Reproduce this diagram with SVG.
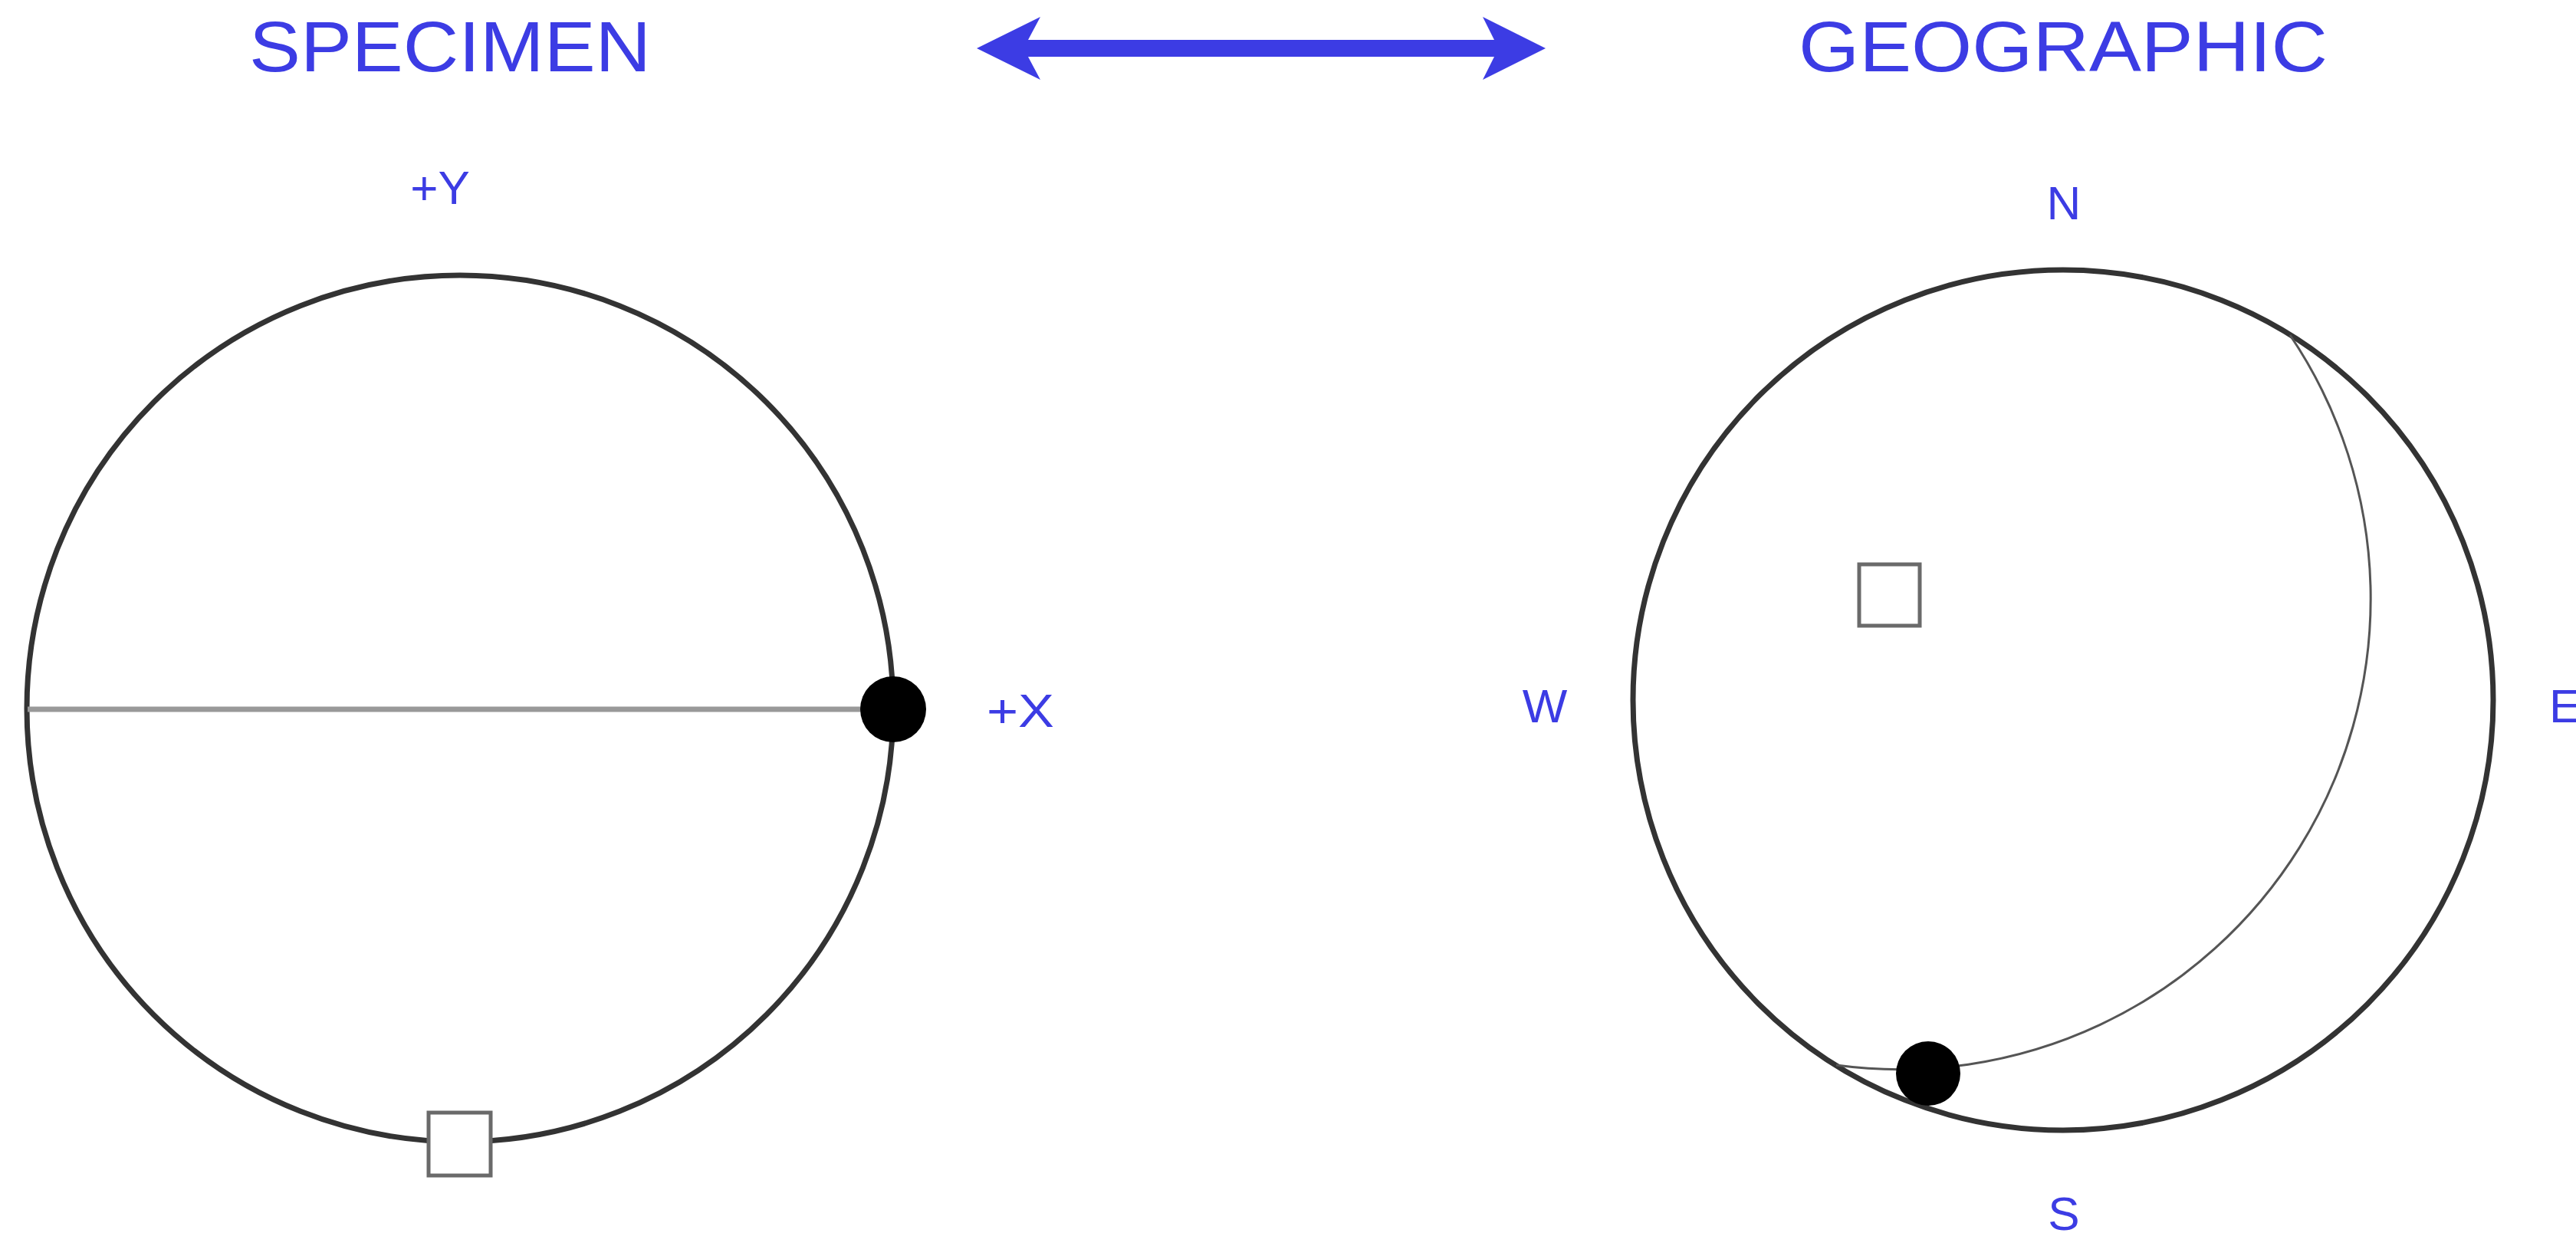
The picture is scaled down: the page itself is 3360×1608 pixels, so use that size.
<svg xmlns="http://www.w3.org/2000/svg" width="3360" height="1608" viewBox="0 0 3360 1608">
<style>
.lbl{font-family:"Liberation Sans",Arial,sans-serif;fill:#3c3ce4;font-size:62px}
.title{font-family:"Liberation Sans",Arial,sans-serif;fill:#3c3ce4;font-size:92px}
.prim{fill:none;stroke:#333;stroke-width:7}
.sq{fill:#fff;stroke:#6a6a6a;stroke-width:5}
.dot{fill:#000}
</style>
<rect width="3360" height="1608" fill="#fff"/>
<g id="title-specimen"><text class="title" x="325" y="93" textLength="524" lengthAdjust="spacingAndGlyphs">SPECIMEN</text></g>
<g id="title-geographic"><text class="title" x="2346" y="93" textLength="690" lengthAdjust="spacingAndGlyphs">GEOGRAPHIC</text></g>
<g id="connectors">
<polygon points="1274,63 1357,22 1341,52 1949,52 1934,22 2016,63 1934,104 1949,74 1341,74 1357,104" fill="#3c3ce4"/>
</g>
<g id="specimen-net">
<circle class="prim" cx="600" cy="924" r="565"/>
<line x1="36" y1="925" x2="1165" y2="925" stroke="#999" stroke-width="7"/>
<circle class="dot" cx="1165" cy="925" r="43"/>
<rect class="sq" x="559" y="1451" width="81" height="82"/>
<text class="lbl" x="574" y="266" text-anchor="middle">+Y</text>
<text class="lbl" x="1287" y="948" textLength="88" lengthAdjust="spacingAndGlyphs">+X</text>
</g>
<g id="geographic-net">
<circle class="prim" cx="2691" cy="913" r="561"/>
<path d="M2987 437 A614 614 0 0 1 2395 1389" fill="none" stroke="#555" stroke-width="3"/>
<circle class="dot" cx="2515" cy="1400" r="42"/>
<rect class="sq" x="2425" y="736" width="79" height="80"/>
<text class="lbl" x="2692" y="286" text-anchor="middle">N</text>
<text class="lbl" x="2015" y="942" text-anchor="middle">W</text>
<text class="lbl" x="3325" y="942">E</text>
<text class="lbl" x="2692" y="1604" text-anchor="middle">S</text>
</g>
</svg>
